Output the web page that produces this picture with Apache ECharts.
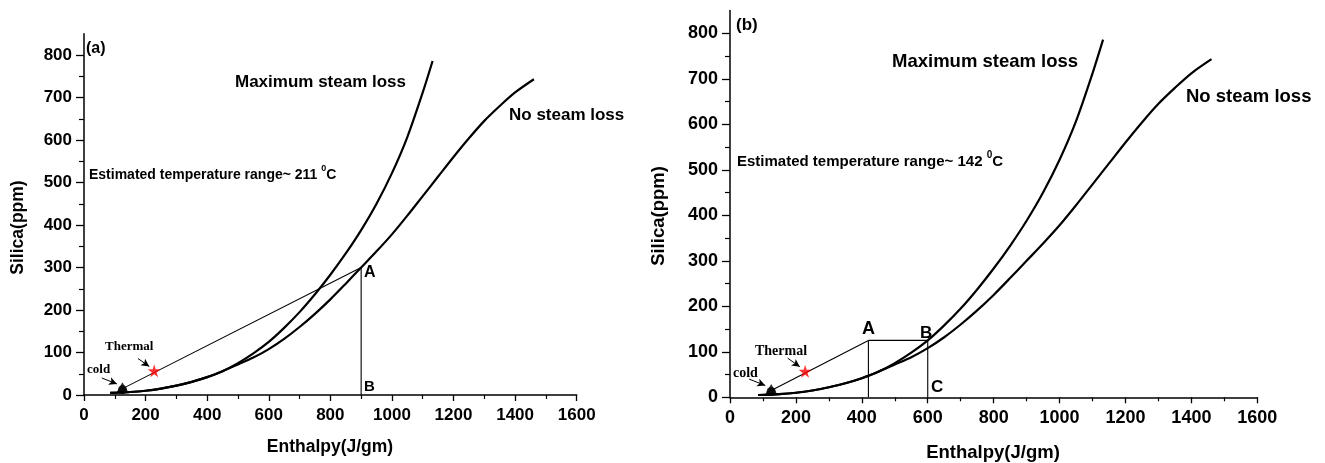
<!DOCTYPE html>
<html>
<head>
<meta charset="utf-8">
<script src="https://cdn.jsdelivr.net/npm/echarts@6/dist/echarts.min.js"></script>
<style>
  html, body { margin: 0; padding: 0; background: #fff; }
  #chart { width: 1325px; height: 463px; }
</style>
</head>
<body>
<div id="chart"></div>
<script>
// Silica–enthalpy mixing model, panels (a) and (b)

// Quartz solubility curve without steam loss
const enthalpyNoLoss = [85, 150, 200, 250, 300, 350, 400, 450, 500, 550, 600, 650, 700, 750, 800, 850, 900,
                        950, 1000, 1050, 1100, 1150, 1200, 1250, 1300, 1350, 1400, 1461];
const silicaNoLoss   = [5, 7, 10, 15, 22, 31, 42, 56, 72, 88, 108, 132, 160, 191, 225, 262, 300,
                        338, 378, 422, 468, 514, 560, 604, 645, 680, 712, 743];

// Quartz solubility curve after maximum steam loss
const enthalpyMaxLoss = [85, 150, 200, 250, 300, 350, 400, 450, 500, 550, 600, 650, 700, 750, 800, 850, 900,
                         950, 1000, 1050, 1100, 1132];
const silicaMaxLoss   = [5, 7, 10, 15, 22, 31, 42, 56, 75, 98, 125, 158, 195, 237, 283, 333, 388,
                         450, 522, 607, 712, 786];

// Sample points
const coldPoint    = [125, 15];
const thermalPoint = [228, 57];

// Panel (a): mixing line through the thermal water up to A, then down to B
const pointA_a = [900, 300];
const pointB_a = [900, 0];

// Panel (b): mixing line up to A, across to B, down to C
const pointA_b = [420, 125];
const pointB_b = [600, 125];
const pointC_b = [600, 0];
const footA_b  = [420, 0];

// Axis ticks
const yTicks      = [0, 100, 200, 300, 400, 500, 600, 700, 800];
const yMinorTicks = [50, 150, 250, 350, 450, 550, 650, 750];

const SANS = '"Liberation Sans", Arial, sans-serif';
const SERIF = '"Liberation Serif", "Times New Roman", serif';

const chart = echarts.init(document.getElementById('chart'), null, { renderer: 'canvas' });

function zip(xs, ys) { return xs.map((x, i) => [x, ys[i]]); }
const plain = v => String(v);

function xAxisFor(gridIndex, fontSize) {
  return {
    gridIndex, type: 'value', min: 0, max: 1600, interval: 200,
    axisLine: { show: true, onZero: false, lineStyle: { color: '#000', width: 1.5 } },
    axisTick: { show: true, length: 6, lineStyle: { color: '#000', width: 1.3 } },
    minorTick: { show: true, splitNumber: 2, length: 4, lineStyle: { color: '#000', width: 1.2 } },
    axisLabel: { margin: 12, color: '#000', fontWeight: 'bold', fontSize, fontFamily: SANS, formatter: plain },
    splitLine: { show: false }, minorSplitLine: { show: false }
  };
}

function yAxesFor(gridIndex, fontSize) {
  return [{
    gridIndex, type: 'value', min: 0, max: 850, interval: 50, position: 'left',
    axisLine: { show: true, onZero: false, lineStyle: { color: '#000', width: 1.5 } },
    axisTick: { show: true, customValues: yTicks, length: 8, lineStyle: { color: '#000', width: 1.3 } },
    axisLabel: { customValues: yTicks, margin: 12, color: '#000', fontWeight: 'bold', fontSize, fontFamily: SANS, formatter: plain },
    splitLine: { show: false }
  }, {
    gridIndex, type: 'value', min: 0, max: 850, interval: 50, position: 'left',
    axisLine: { show: false },
    axisTick: { show: true, customValues: yMinorTicks, length: 5, lineStyle: { color: '#000', width: 1.2 } },
    axisLabel: { show: false },
    splitLine: { show: false }
  }];
}

function curve(xi, yi, data) {
  return {
    type: 'line', xAxisIndex: xi, yAxisIndex: yi, data,
    showSymbol: false, smooth: 0.3, silent: true,
    lineStyle: { color: '#000', width: 2.2 }, z: 3
  };
}

function thin(xi, yi, data) {
  return {
    type: 'line', xAxisIndex: xi, yAxisIndex: yi, data,
    showSymbol: false, silent: true,
    lineStyle: { color: '#000', width: 1.1 }, z: 2
  };
}

const STAR = 'path://M50,0 L61,35 L98,35 L68,57 L79,91 L50,70 L21,91 L32,57 L2,35 L39,35 Z';

function samples(xi, yi) {
  return [{
    type: 'scatter', xAxisIndex: xi, yAxisIndex: yi, data: [coldPoint],
    symbol: 'triangle', symbolSize: [13, 11], symbolOffset: [0, -1], silent: true,
    itemStyle: { color: '#000' }, z: 5
  }, {
    type: 'scatter', xAxisIndex: xi, yAxisIndex: yi, data: [coldPoint],
    symbol: 'circle', symbolSize: 9, symbolOffset: [0, 1], silent: true,
    itemStyle: { color: '#000' }, z: 5
  }, {
    type: 'scatter', xAxisIndex: xi, yAxisIndex: yi, data: [thermalPoint],
    symbol: STAR, symbolSize: 13, silent: true,
    itemStyle: { color: '#ff0000' }, z: 6,
    // pointer arrows from the "Thermal" and "cold" labels
    markLine: {
      silent: true, symbol: ['none', 'arrow'], symbolSize: [6, 8], animation: false,
      lineStyle: { color: '#000', width: 1, type: 'solid' }, label: { show: false },
      data: [
        [{ coord: [175, 86] }, { coord: [212, 67] }],
        [{ coord: [58, 40] }, { coord: [107, 26] }]
      ]
    }
  }];
}

function txt(x, y, text, size) {
  return {
    type: 'text', x, y, silent: true,
    style: { text, fill: '#000', font: 'bold ' + size + 'px ' + SANS, align: 'left', verticalAlign: 'middle' }
  };
}

function centered(x, y, text, size, rotation) {
  return {
    type: 'text', x, y, rotation: rotation || 0, silent: true,
    style: { text, fill: '#000', font: 'bold ' + size + 'px ' + SANS, align: 'center', verticalAlign: 'middle' }
  };
}

function serifTxt(x, y, text, size) {
  return {
    type: 'text', x, y, silent: true,
    style: { text, fill: '#000', font: 'bold ' + size + 'px ' + SERIF, align: 'left', verticalAlign: 'middle' }
  };
}

function tempTxt(x, y, value, size) {
  return {
    type: 'text', x, y, silent: true,
    style: {
      text: '{t|Estimated temperature range~ ' + value + ' }{s|0}{t|C}',
      align: 'left', verticalAlign: 'middle',
      rich: {
        t: { font: 'bold ' + size + 'px ' + SANS, fill: '#000', lineHeight: size + 4, verticalAlign: 'bottom' },
        s: { font: 'bold ' + Math.round(size * 0.65) + 'px ' + SANS, fill: '#000', lineHeight: size + 4, verticalAlign: 'top' }
      }
    }
  };
}

const option = {
  animation: false,
  backgroundColor: '#fff',
  grid: [
    { left: 84, top: 33.75, width: 492.7, height: 361.25 },
    { left: 730, top: 10.5, width: 527.3, height: 386.8 }
  ],
  xAxis: [xAxisFor(0, 17), xAxisFor(1, 18)],
  yAxis: [...yAxesFor(0, 17), ...yAxesFor(1, 18)],
  series: [
    // (a)
    curve(0, 0, zip(enthalpyNoLoss, silicaNoLoss)),
    curve(0, 0, zip(enthalpyMaxLoss, silicaMaxLoss)),
    thin(0, 0, [coldPoint, pointA_a]),
    thin(0, 0, [pointA_a, pointB_a]),
    ...samples(0, 0),
    // (b)
    curve(1, 2, zip(enthalpyNoLoss, silicaNoLoss)),
    curve(1, 2, zip(enthalpyMaxLoss, silicaMaxLoss)),
    thin(1, 2, [coldPoint, pointA_b]),
    thin(1, 2, [pointA_b, footA_b]),
    thin(1, 2, [pointA_b, pointB_b]),
    thin(1, 2, [pointB_b, pointC_b]),
    ...samples(1, 2)
  ],
  graphic: [
    // (a)
    txt(86, 49, '(a)', 16),
    txt(235, 82, 'Maximum steam loss', 17),
    txt(509, 115, 'No steam loss', 17),
    tempTxt(89, 173, '211', 14),
    txt(364, 273, 'A', 16),
    txt(364, 387, 'B', 15),
    serifTxt(105, 347, 'Thermal', 13),
    serifTxt(87, 370, 'cold', 13),
    centered(18.5, 227.5, 'Silica(ppm)', 17.5, Math.PI / 2),
    centered(330, 447, 'Enthalpy(J/gm)', 17.5),
    // (b)
    txt(736, 25, '(b)', 17),
    txt(892, 62, 'Maximum steam loss', 18.5),
    txt(1186, 97, 'No steam loss', 18.5),
    tempTxt(737, 160, '142', 15),
    txt(862, 329, 'A', 18),
    txt(920, 333, 'B', 17),
    txt(931, 387, 'C', 17),
    serifTxt(755, 351, 'Thermal', 14),
    serifTxt(733, 373, 'cold', 14),
    centered(659, 216, 'Silica(ppm)', 18.5, Math.PI / 2),
    centered(993, 453, 'Enthalpy(J/gm)', 18.5)
  ]
};

chart.setOption(option);
</script>
</body>
</html>
